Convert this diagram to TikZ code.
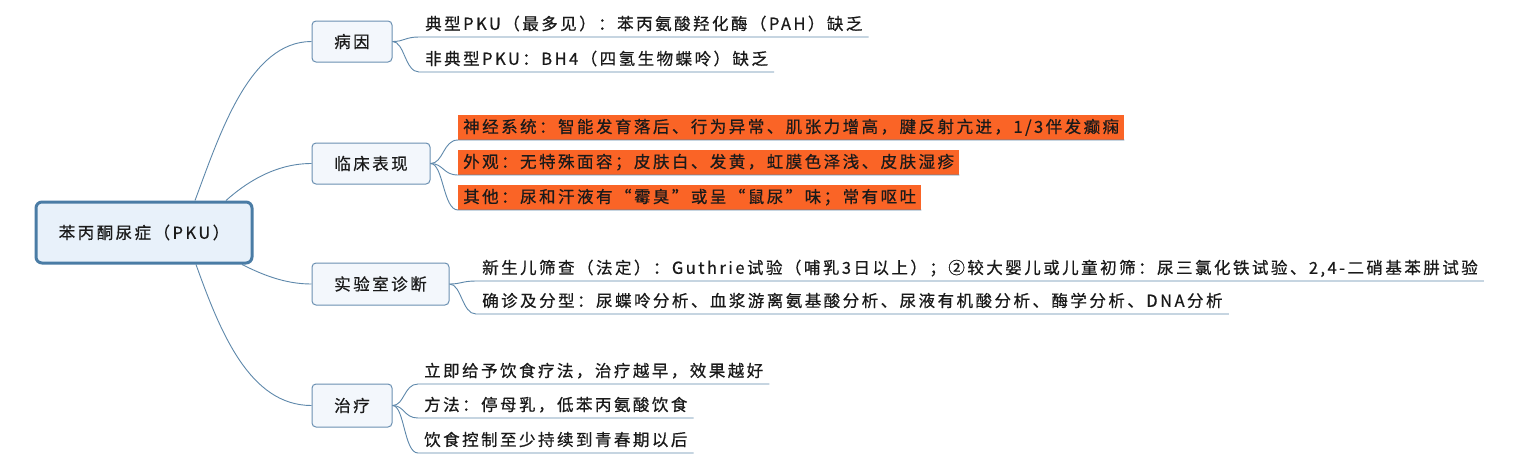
\documentclass[tikz,border=0pt]{standalone}
\usepackage{fontspec}
\setmainfont{Noto Sans CJK SC}[LetterSpace=15,FakeBold=0.6]
\usetikzlibrary{calc,backgrounds}
\definecolor{lineblue}{HTML}{5E88AB}
\definecolor{rootfill}{HTML}{E8F1FA}
\definecolor{rootdraw}{HTML}{4A7CA5}
\definecolor{topfill}{HTML}{F3F7FC}
\definecolor{topdraw}{HTML}{6B90B2}
\definecolor{hot}{HTML}{FA6426}
\definecolor{ink}{HTML}{1A1A1A}
\begin{document}
\begin{tikzpicture}[x=1pt,y=-1pt,
  every node/.style={font=\fontsize{16.5}{20}\selectfont, text=ink},
  rootbox/.style={draw=rootdraw, fill=rootfill, line width=3pt, rounded corners=6pt, minimum width=216pt, minimum height=61pt, inner sep=0pt},
  topbox/.style={draw=topdraw, fill=topfill, line width=1pt, rounded corners=4pt, minimum height=41pt, inner sep=0pt},
  leaf/.style={anchor=south west, inner xsep=6pt, inner ysep=0pt, text height=14pt, text depth=7pt},
  hotleaf/.style={anchor=south west, fill=hot, inner xsep=5pt, inner ysep=0pt, text height=18pt, text depth=7pt},
  br/.style={draw=lineblue, line width=0.9pt}]
\useasboundingbox (0,0) rectangle (1525,464);

\node[rootbox] (root) at (144,232.5) {苯丙酮尿症（PKU）};
\node[topbox, minimum width=80pt] (cause) at (352,41.5) {病因};
\node[topbox, minimum width=118pt] (clin) at (371,163.5) {临床表现};
\node[topbox, minimum width=137pt, minimum height=42pt] (lab) at (380.5,284) {实验室诊断};
\node[topbox, minimum width=80pt, minimum height=43pt] (treat) at (352,405.5) {治疗};

\node[leaf] (c1) at (419,37) {典型PKU（最多见）：苯丙氨酸羟化酶（PAH）缺乏};
\node[leaf] (c2) at (419,72) {非典型PKU：BH4（四氢生物蝶呤）缺乏};
\node[hotleaf] (k1) at (458,140) {神经系统：智能发育落后、行为异常、肌张力增高，腱反射亢进，1/3伴发癫痫};
\node[hotleaf] (k2) at (458,175) {外观：无特殊面容；皮肤白、发黄，虹膜色泽浅、皮肤湿疹};
\node[hotleaf] (k3) at (458,210) {其他：尿和汗液有“霉臭”或呈“鼠尿”味；常有呕吐};
\node[leaf] (l1) at (476,281) {新生儿筛查（法定）：Guthrie试验（哺乳3日以上）；②较大婴儿或儿童初筛：尿三氯化铁试验、2,4-二硝基苯肼试验};
\node[leaf] (l2) at (476,314) {确诊及分型：尿蝶呤分析、血浆游离氨基酸分析、尿液有机酸分析、酶学分析、DNA分析};
\node[leaf] (t1) at (418,384) {立即给予饮食疗法，治疗越早，效果越好};
\node[leaf] (t2) at (418,418) {方法：停母乳，低苯丙氨酸饮食};
\node[leaf] (t3) at (418,453) {饮食控制至少持续到青春期以后};

\begin{pgfonlayer}{background}
\fill[white] (0,0) rectangle (1525,464);
\draw[br] ([xshift=51pt]root.north) .. controls +(25,-67) and +(-62,0) .. (cause.west);
\draw[br] ([xshift=82pt]root.north) .. controls +(19,-17) and +(-37,0) .. (clin.west);
\draw[br] ([xshift=98pt]root.south) .. controls +(20,10) and +(-27,0) .. (lab.west);
\draw[br] ([xshift=52pt]root.south) .. controls +(24,67) and +(-62,0) .. (treat.west);
\end{pgfonlayer}

\draw[br] (cause.east) .. controls +(12,0) and +(-14,0) .. (c1.south west) -- (c1.south east);
\draw[br] (cause.east) .. controls +(12,0) and +(-14,0) .. (c2.south west) -- (c2.south east);
\draw[br] (clin.east) .. controls +(13,0) and +(-15,0) .. (k1.south west) -- (k1.south east);
\draw[br] (clin.east) .. controls +(13,0) and +(-15,0) .. (k2.south west) -- (k2.south east);
\draw[br] (clin.east) .. controls +(13,0) and +(-15,0) .. (k3.south west) -- (k3.south east);
\draw[br] (lab.east) .. controls +(12,0) and +(-14,0) .. (l1.south west) -- (l1.south east);
\draw[br] (lab.east) .. controls +(12,0) and +(-14,0) .. (l2.south west) -- (l2.south east);
\draw[br] (treat.east) .. controls +(12,0) and +(-14,0) .. (t1.south west) -- (t1.south east);
\draw[br] (treat.east) .. controls +(12,0) and +(-14,0) .. (t2.south west) -- (t2.south east);
\draw[br] (treat.east) .. controls +(12,0) and +(-14,0) .. (t3.south west) -- (t3.south east);
\end{tikzpicture}
\end{document}
